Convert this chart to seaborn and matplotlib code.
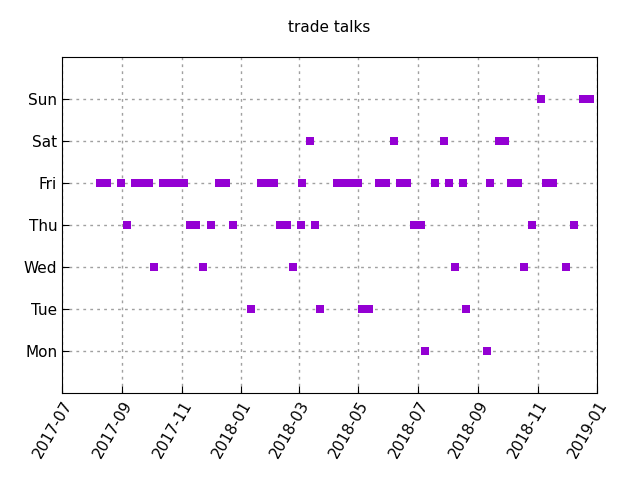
import pandas as pd
import matplotlib
matplotlib.use("Agg")
import matplotlib.pyplot as plt
import matplotlib.dates as mdates
import seaborn as sns

days = ["Mon", "Tue", "Wed", "Thu", "Fri", "Sat", "Sun"]
mon = ["2018-07-08", "2018-09-10"]
tue = ["2018-01-11", "2018-03-23", "2018-05-05", "2018-05-12", "2018-08-20"]
wed = ["2017-10-03", "2017-11-23", "2018-02-23", "2018-08-08", "2018-10-18", "2018-11-30"]
thu = ["2017-09-06", "2017-11-09", "2017-11-16", "2017-12-01", "2017-12-23",
       "2018-02-10", "2018-02-17", "2018-03-03", "2018-03-18", "2018-06-27",
       "2018-07-04", "2018-10-26", "2018-12-08"]
fri = ["2017-08-09", "2017-08-16", "2017-08-31", "2017-09-14", "2017-09-21",
       "2017-09-28", "2017-10-13", "2017-10-20", "2017-10-27", "2017-11-03",
       "2017-12-09", "2017-12-16", "2018-01-21", "2018-01-28", "2018-02-04",
       "2018-03-04", "2018-04-09", "2018-04-16", "2018-04-23", "2018-05-01",
       "2018-05-22", "2018-05-29", "2018-06-13", "2018-06-20", "2018-07-19",
       "2018-08-02", "2018-08-17", "2018-09-13", "2018-10-05", "2018-10-12",
       "2018-11-10", "2018-11-17"]
sat = ["2018-03-13", "2018-06-07", "2018-07-28", "2018-09-22", "2018-09-29"]
sun = ["2018-11-05", "2018-12-18", "2018-12-25"]

rows = []
for i, lst in enumerate([mon, tue, wed, thu, fri, sat, sun]):
    for d in lst:
        rows.append({"date": pd.Timestamp(d), "day": i + 1})
df = pd.DataFrame(rows)

fig = plt.figure(figsize=(6.4, 4.8), dpi=100)
ax = fig.add_axes([62/640, 1-393/480, 535/640, 336/480])
sns.scatterplot(data=df, x="date", y="day", marker="s", s=30, color="#9400D3",
                linewidth=0, ax=ax, zorder=3)
ax.set_ylim(0, 8)
ax.set_yticks(range(1, 8))
ax.set_yticklabels(days, fontsize=11)
ax.set_xlim(pd.Timestamp("2017-07-01"), pd.Timestamp("2019-01-01"))
ax.xaxis.set_major_locator(mdates.MonthLocator(bymonth=[1, 3, 5, 7, 9, 11]))
ax.xaxis.set_major_formatter(mdates.DateFormatter("%Y-%m"))
plt.setp(ax.get_xticklabels(), rotation=60, ha="right", rotation_mode="anchor", fontsize=11)
ax.set_xlabel("")
ax.set_ylabel("")
ax.grid(True, color="#a0a0a0", linestyle=(0, (2, 3)), linewidth=1)
ax.tick_params(direction="in", length=5, top=False, right=False)
for s in ax.spines.values():
    s.set_color("black")
ax.set_title("trade talks", fontsize=11, pad=18)
fig.savefig("out.png", dpi=100)
